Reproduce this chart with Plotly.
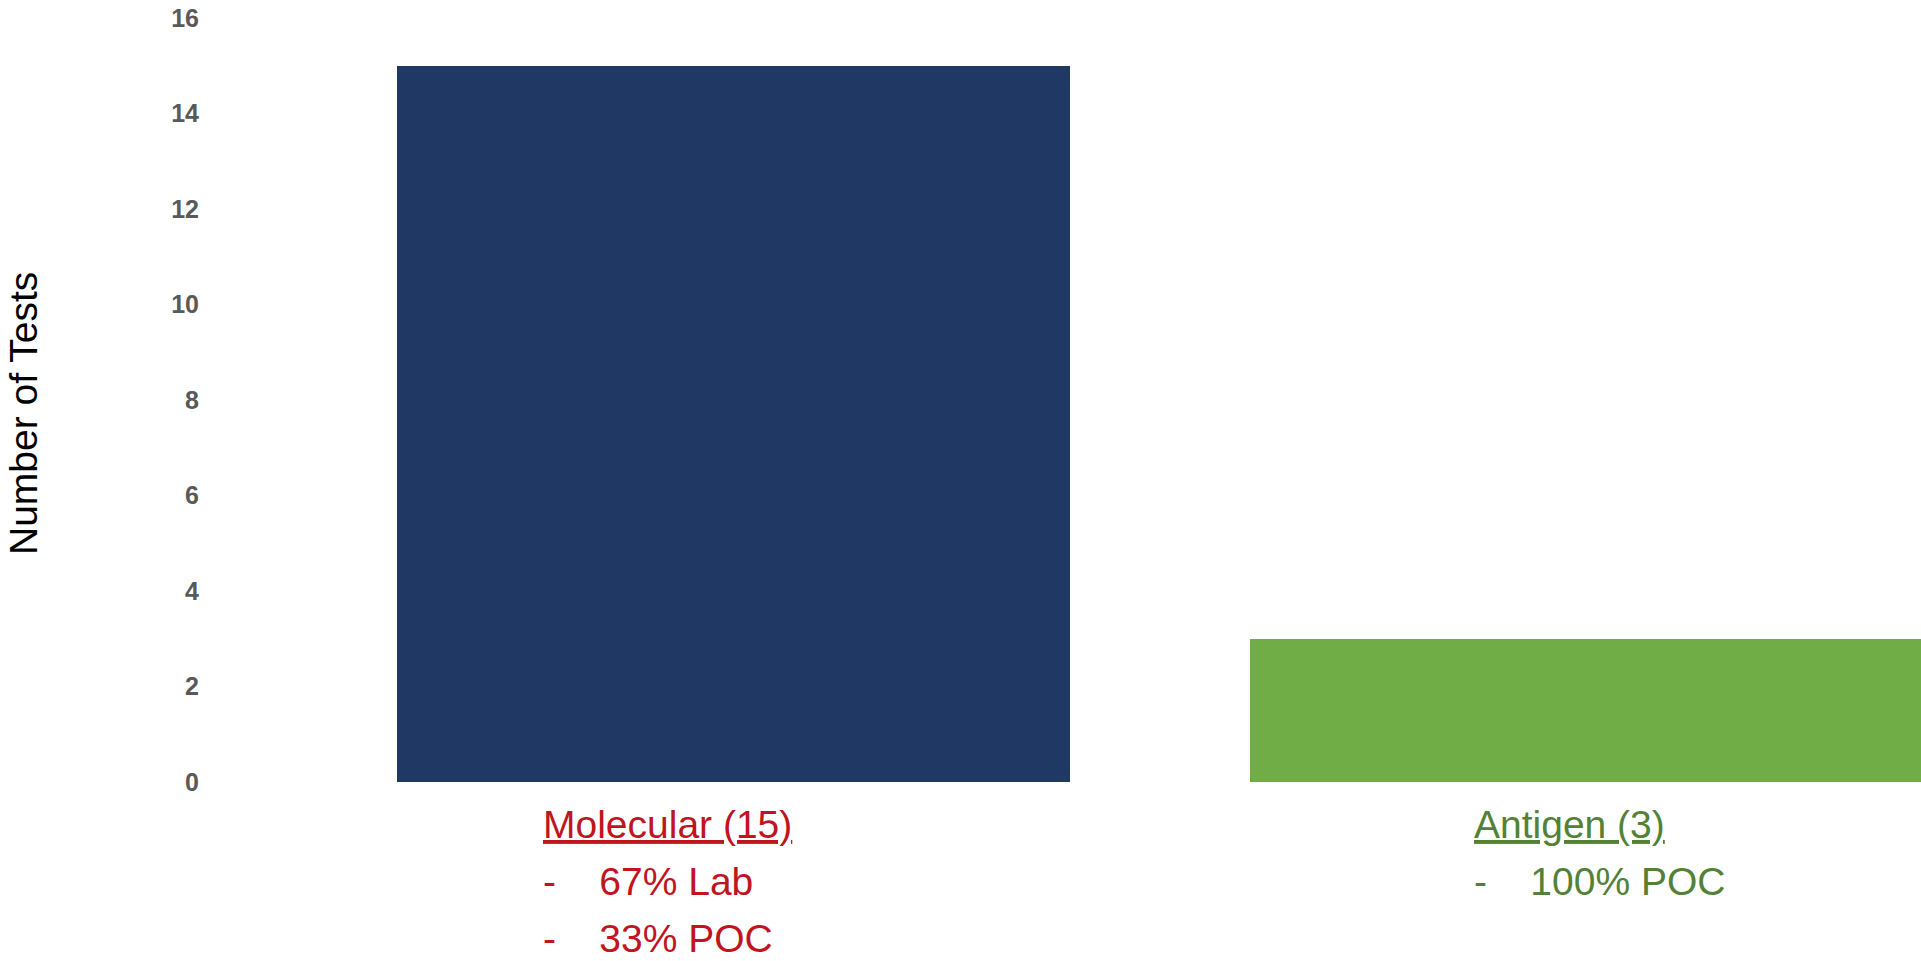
import plotly.graph_objects as go

categories = ["Molecular", "Antigen"]
values = [15, 3]
bar_colors = ["#203864", "#70AD47"]
label_colors = ["#C0141E", "#538135"]
SP = "\u00a0" * 4
label_lines = [
    ["<u>Molecular (15)</u>", "-" + SP + "67% Lab", "-" + SP + "33% POC"],
    ["<u>Antigen (3)</u>", "-" + SP + "100% POC"],
]
label_x = [0.1935, 0.7376]  # paper coords of label left edges
y_ticks = [0, 2, 4, 6, 8, 10, 12, 14, 16]
y_title = "Number of Tests"

W, H = 1921, 961
ML, MR, MT, MB = 210, 0, 18, 179
plot_h = H - MT - MB

FONT = "Liberation Sans Narrow, Arial Narrow, Liberation Sans, Arial, sans-serif"

fig = go.Figure()
fig.add_trace(go.Bar(
    x=categories, y=values, marker=dict(color=bar_colors, line=dict(width=0)),
    width=0.789, showlegend=False, hoverinfo="x+y",
))

annotations = []
line_step = 57
first_top = 801
for lines, col, lx in zip(label_lines, label_colors, label_x):
    for i, t in enumerate(lines):
        py = first_top + i * line_step
        annotations.append(dict(
            text=t, xref="paper", yref="paper", x=lx, y=(H - MB - py) / plot_h,
            xanchor="left", yanchor="top", showarrow=False, align="left",
            font=dict(family=FONT, size=39, color=col),
        ))

annotations.append(dict(
    text=y_title, xref="paper", yref="paper", x=0, xshift=-(ML - 24), y=(H - MB - 414) / plot_h,
    xanchor="center", yanchor="middle", textangle=-90, showarrow=False,
    font=dict(family=FONT, size=39, color="#000000"),
))

fig.update_layout(
    width=W, height=H, margin=dict(l=ML, r=MR, t=MT, b=MB, pad=0),
    paper_bgcolor="white", plot_bgcolor="white",
    xaxis=dict(type="category", range=[-0.6137, 1.3922], showticklabels=False,
               showgrid=False, zeroline=False, showline=False, ticks=""),
    yaxis=dict(range=[0, 16], tickvals=y_ticks, showgrid=False, zeroline=False,
               showline=False, ticks="", ticklabelstandoff=10,
               tickfont=dict(family=FONT, size=25, color="#595959", weight="bold")),
    annotations=annotations,
    bargap=0,
)

fig.write_html("out.html", config={"displayModeBar": False},
               post_script="document.body.style.margin='0';document.body.style.overflow='hidden';")
